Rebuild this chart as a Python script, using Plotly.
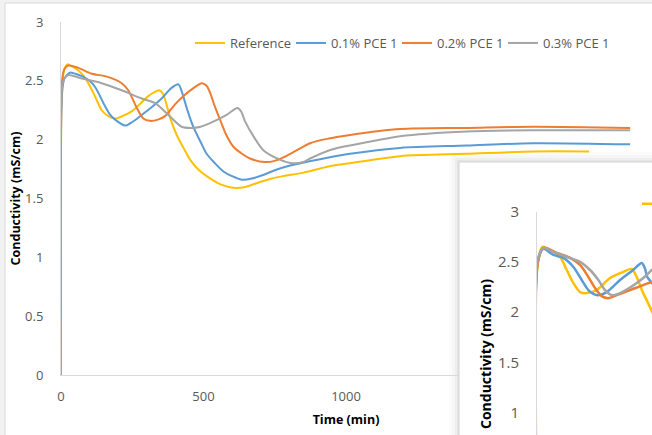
import plotly.graph_objects as go

# ---------------- main chart data (Time in min, Conductivity in mS/cm) ----------------
ref_t = [0, 4, 12, 23, 40, 60, 80, 96, 119, 143, 166, 190, 215, 248, 280, 306, 325, 345, 358, 370, 385, 406, 430, 453, 480, 511, 560, 611, 650, 698, 740, 779, 850, 955, 1014, 1190, 1424, 1657, 1853]
ref_v = [0.0, 2.45, 2.6, 2.64, 2.62, 2.59, 2.54, 2.48, 2.37, 2.25, 2.2, 2.18, 2.2, 2.24, 2.31, 2.37, 2.4, 2.42, 2.39, 2.3, 2.17, 2.04, 1.93, 1.83, 1.75, 1.69, 1.62, 1.59, 1.6, 1.64, 1.67, 1.69, 1.72, 1.78, 1.8, 1.86, 1.88, 1.9, 1.9]

p01_t = [0, 4, 12, 32, 50, 73, 100, 119, 135, 149, 170, 190, 225, 250, 283, 320, 353, 388, 412, 425, 441, 464, 490, 511, 540, 570, 600, 634, 670, 709, 750, 804, 900, 1014, 1190, 1424, 1657, 1997]
p01_v = [0.0, 2.4, 2.52, 2.57, 2.56, 2.54, 2.5, 2.45, 2.38, 2.31, 2.22, 2.17, 2.12, 2.15, 2.21, 2.28, 2.35, 2.44, 2.47, 2.4, 2.27, 2.11, 1.98, 1.88, 1.8, 1.73, 1.69, 1.66, 1.67, 1.7, 1.74, 1.78, 1.83, 1.88, 1.93, 1.95, 1.97, 1.96]

p02_t = [0, 4, 12, 26, 61, 108, 154, 190, 213, 236, 266, 289, 312, 340, 365, 400, 429, 460, 494, 510, 523, 540, 558, 580, 605, 635, 663, 716, 750, 780, 820, 874, 940, 1014, 1190, 1424, 1657, 1997]
p02_v = [0.0, 2.5, 2.6, 2.63, 2.61, 2.56, 2.54, 2.51, 2.48, 2.42, 2.27, 2.18, 2.16, 2.17, 2.2, 2.3, 2.37, 2.43, 2.48, 2.46, 2.4, 2.28, 2.17, 2.04, 1.94, 1.88, 1.84, 1.81, 1.82, 1.85, 1.9, 1.97, 2.01, 2.04, 2.09, 2.1, 2.11, 2.1]

p03_t = [0, 4, 12, 26, 73, 143, 213, 283, 330, 377, 423, 459, 490, 523, 581, 619, 632, 645, 675, 710, 768, 810, 850, 874, 956, 1014, 1100, 1190, 1424, 1657, 1997]
p03_v = [0.0, 2.45, 2.52, 2.55, 2.52, 2.48, 2.42, 2.35, 2.31, 2.21, 2.11, 2.1, 2.11, 2.14, 2.21, 2.27, 2.24, 2.16, 2.03, 1.91, 1.83, 1.8, 1.81, 1.84, 1.92, 1.95, 1.99, 2.03, 2.07, 2.08, 2.08]

x_ticks = [0, 500, 1000]

# ---------------- overlapping second chart (partly visible) ----------------
in_ref_t = [0, 2, 20, 47, 83, 107, 131, 155, 179, 215, 263, 310, 341, 359, 382, 395, 420]
in_ref_v = [0.0, 2.47, 2.65, 2.62, 2.55, 2.42, 2.29, 2.2, 2.19, 2.22, 2.34, 2.4, 2.43, 2.35, 2.19, 2.12, 1.97]

in_p01_t = [0, 3, 23, 59, 95, 131, 161, 185, 215, 251, 299, 346, 377, 388, 397, 414, 425]
in_p01_v = [0.0, 2.5, 2.63, 2.57, 2.54, 2.45, 2.32, 2.22, 2.17, 2.2, 2.32, 2.42, 2.49, 2.44, 2.35, 2.29, 2.25]

in_p02_t = [0, 3, 23, 71, 119, 155, 185, 209, 233, 256, 287, 335, 382, 413, 425]
in_p02_v = [0.0, 2.5, 2.64, 2.59, 2.54, 2.47, 2.35, 2.24, 2.16, 2.14, 2.17, 2.22, 2.27, 2.3, 2.31]

in_p03_t = [0, 1, 23, 59, 107, 155, 191, 221, 245, 269, 299, 359, 395, 413, 425]
in_p03_v = [0.0, 2.5, 2.64, 2.6, 2.55, 2.5, 2.42, 2.32, 2.22, 2.17, 2.19, 2.29, 2.37, 2.42, 2.44]

names = ["Reference", "0.1% PCE 1", "0.2% PCE 1", "0.3% PCE 1"]
colors = ["#FFC000", "#5B9BD5", "#ED7D31", "#A5A5A5"]

W, H = 652, 435
def px_x(p):
    return p / W
def px_y(p):
    return (H - p) / H

FONT = "Open Sans"
GRAY = "#595959"
AX = "#d9d9d9"

fig = go.Figure()

main = [(ref_t, ref_v), (p01_t, p01_v), (p02_t, p02_v), (p03_t, p03_v)]
leg_w = [56, 61, 61, 61]
for (t, v), n, c, lw in zip(main, names, colors, leg_w):
    fig.add_trace(go.Scatter(x=t, y=v, name=n, mode="lines",
                             line=dict(color=c, width=2, shape="spline", smoothing=0.8),
                             xaxis="x", yaxis="y", legend="legend", legendwidth=lw,
                             hoverinfo="skip"))

# empty trace to create the white cover subplot of the overlapping chart
fig.add_trace(go.Scatter(x=[], y=[], xaxis="x2", yaxis="y2", showlegend=False, hoverinfo="skip"))

inset = [(in_ref_t, in_ref_v), (in_p01_t, in_p01_v), (in_p02_t, in_p02_v), (in_p03_t, in_p03_v)]
for i, ((t, v), n, c) in enumerate(zip(inset, names, colors)):
    fig.add_trace(go.Scatter(x=t, y=v, name=n, mode="lines",
                             line=dict(color=c, width=2.5, shape="spline", smoothing=0.8),
                             xaxis="x3", yaxis="y3", legend="legend2",
                             showlegend=(i == 0), hoverinfo="skip"))

fig.update_layout(
    width=W, height=H,
    margin=dict(l=0, r=0, t=0, b=0, autoexpand=False),
    paper_bgcolor="#f2f2f2",
    plot_bgcolor="white",
    font=dict(family=FONT, color=GRAY, size=13),
    xaxis=dict(domain=[px_x(61), px_x(631)], range=[0, 2000], tickvals=x_ticks,
               showline=True, linecolor=AX, linewidth=1, showgrid=False, zeroline=False,
               ticks="outside", ticklen=9, tickcolor="rgba(0,0,0,0)",
               tickfont=dict(size=13, color=GRAY), anchor="y",
               title=dict(text="<b>Time (min)</b>", font=dict(size=12.5, color="black"), standoff=11)),
    yaxis=dict(domain=[px_y(375), px_y(22)], range=[0, 3], dtick=0.5, tick0=0,
               showline=True, linecolor=AX, linewidth=1, showgrid=False, zeroline=False,
               ticks="outside", ticklen=14, tickcolor="rgba(0,0,0,0)",
               tickfont=dict(size=13, color=GRAY), anchor="x",
               title=dict(text="<b>Conductivity (mS/cm)</b>", font=dict(size=12.5, color="black"), standoff=1)),
    xaxis2=dict(domain=[px_x(459), 1], range=[0, 1], visible=False, anchor="y2"),
    yaxis2=dict(domain=[0, px_y(162)], range=[0, 1], visible=False, anchor="x2"),
    xaxis3=dict(domain=[px_x(537), 1], range=[0, 414], showline=False, showgrid=False,
                zeroline=False, showticklabels=False, anchor="y3"),
    yaxis3=dict(domain=[0, px_y(211.7)], range=[0.778, 3], dtick=0.5, tick0=0,
                showline=True, linecolor=AX, linewidth=1, showgrid=False, zeroline=False,
                ticks="outside", ticklen=14, tickcolor="rgba(0,0,0,0)",
                tickfont=dict(size=15, color=GRAY), anchor="x3"),
    legend=dict(orientation="h", x=px_x(190), y=px_y(43), xanchor="left", yanchor="middle",
                bgcolor="rgba(0,0,0,0)", font=dict(size=13, color=GRAY)),
    legend2=dict(orientation="h", x=px_x(637), y=px_y(204), xanchor="left", yanchor="middle",
                 bgcolor="rgba(0,0,0,0)", font=dict(size=15, color=GRAY)),
    showlegend=True,
)

shapes = [
    dict(type="rect", xref="paper", yref="paper", x0=px_x(5), x1=1.05, y0=-0.05, y1=px_y(3),
         fillcolor="white", line=dict(color="#d9d9d9", width=1), layer="below"),
]
for k, a in [(10, 0.015), (7, 0.02), (4, 0.03), (2, 0.04)]:
    shapes.append(dict(type="rect", xref="paper", yref="paper", x0=px_x(459 - k), x1=1.05,
                       y0=-0.05, y1=px_y(162 - k), fillcolor="rgba(0,0,0,%s)" % a,
                       line=dict(width=0), layer="below"))
shapes.append(dict(type="rect", xref="paper", yref="paper", x0=px_x(459), x1=1.05,
                   y0=-0.05, y1=px_y(162), fillcolor="rgba(0,0,0,0)",
                   line=dict(color="#d4d4d4", width=1), layer="above"))
fig.update_layout(shapes=shapes)

fig.add_annotation(text="<b>Conductivity (mS/cm)</b>", textangle=-90, showarrow=False,
                   xref="paper", yref="paper", x=px_x(485), y=px_y(277),
                   xanchor="center", yanchor="top", font=dict(size=14, color="black", family=FONT))

fig.write_html("out.html", config={"displayModeBar": False},
               post_script="document.body.style.margin='0';document.body.style.overflow='hidden';")
